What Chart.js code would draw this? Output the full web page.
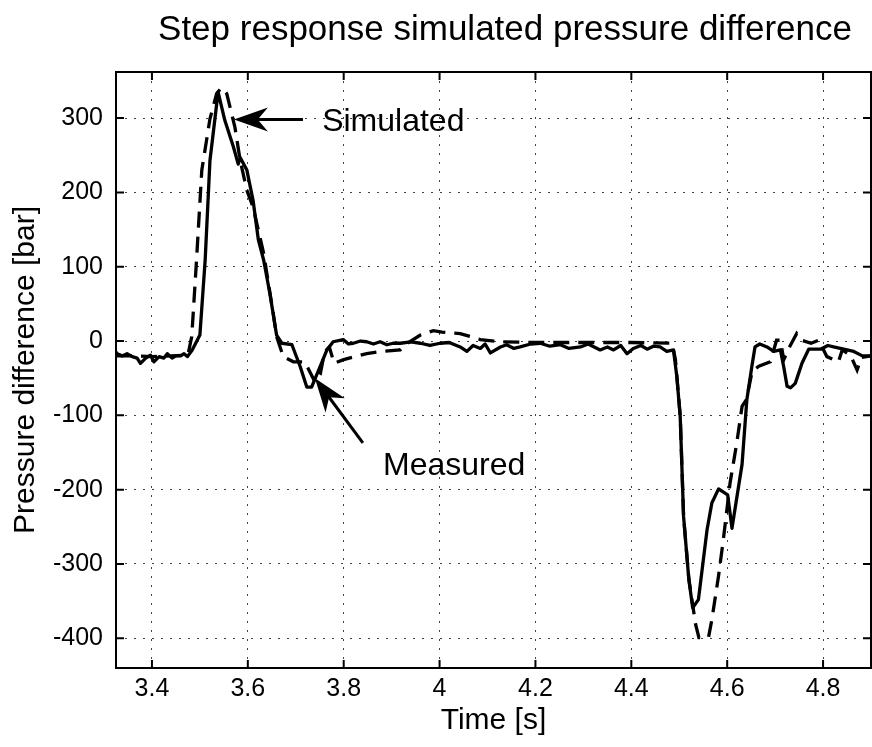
<!DOCTYPE html>
<html>
<head>
<meta charset="utf-8">
<script src="https://cdn.jsdelivr.net/npm/chart.js@4/dist/chart.umd.min.js"></script>
<style>
  html, body { margin: 0; padding: 0; background: #fff; }
  #wrap { width: 872px; height: 747px; }
</style>
</head>
<body>
<div id="wrap"><canvas id="chart"></canvas></div>
<script>
// measured signal (solid line)
const measuredTime = [3.325, 3.327, 3.338, 3.348, 3.359, 3.369, 3.376, 3.387, 3.397, 3.404, 3.415, 3.425, 3.432, 3.442, 3.45, 3.46, 3.467, 3.474, 3.484,
  3.5, 3.511, 3.521, 3.538, 3.552, 3.57, 3.58, 3.584, 3.598, 3.611, 3.622, 3.633, 3.646, 3.66, 3.671, 3.692,
  3.709, 3.723, 3.733, 3.751, 3.765, 3.778, 3.799, 3.81, 3.82, 3.835, 3.848, 3.862, 3.876, 3.89, 3.903, 3.918, 3.94, 3.96, 3.98, 4.001,
  4.02, 4.043, 4.057, 4.07, 4.085, 4.095, 4.106, 4.127, 4.14, 4.155, 4.168, 4.19, 4.21, 4.23, 4.252, 4.27, 4.294, 4.31, 4.335, 4.35, 4.363,
  4.378, 4.391, 4.404, 4.42, 4.433, 4.446, 4.46, 4.474, 4.488, 4.495, 4.502, 4.509, 4.52, 4.528, 4.54, 4.558, 4.568, 4.582, 4.601, 4.61,
  4.631, 4.641, 4.652, 4.658, 4.668, 4.683, 4.697, 4.711, 4.718, 4.725, 4.732, 4.742, 4.756, 4.77, 4.795, 4.81, 4.822, 4.843, 4.864, 4.882, 4.9];
const measuredDp = [-16, -17, -20, -17, -21, -23, -30, -23, -19, -28, -21, -23, -17, -23, -20, -20, -17, -21, -12,
  8, 109, 243, 335, 297, 261, 238, 247, 230, 189, 136, 109, 64, 8, -3, -5,
  -34, -62, -62, -34, -12, -1, 2, -4, -3, 0, -1, -4, -1, -5, -3, -3, -1, -3, -6, -3,
  -2, -8, -14, -6, -10, -4, -16, -8, -5, -10, -8, -4, -3, -7, -5, -10, -8, -4, -12, -8, -12,
  -6, -17, -10, -6, -11, -7, -8, -14, -12, -48, -102, -236, -321, -359, -348, -254, -218, -199, -207, -252,
  -166, -79, -32, -8, -4, -8, -14, -12, -35, -61, -63, -57, -30, -11, -11, -6, -8, -11, -14, -20, -20];

// simulated signal (dashed line)
const simulatedTime = [3.325, 3.36, 3.4, 3.44, 3.475, 3.483, 3.493, 3.504, 3.521, 3.535, 3.545, 3.556, 3.573, 3.584, 3.598, 3.611, 3.633, 3.653, 3.66,
  3.674, 3.695, 3.719, 3.74, 3.751, 3.76, 3.77, 3.78, 3.8, 3.848, 3.88, 3.918, 3.928, 3.96, 3.987, 4.005, 4.043, 4.085, 4.127,
  4.2, 4.3, 4.4, 4.485, 4.492, 4.502, 4.509, 4.52, 4.534, 4.541, 4.561, 4.568, 4.582, 4.592, 4.606, 4.62, 4.631, 4.64, 4.652, 4.666,
  4.69, 4.703, 4.711, 4.718, 4.73, 4.745, 4.756, 4.775, 4.791, 4.808, 4.832, 4.84, 4.857, 4.871, 4.88, 4.9];
const simulatedDp = [-20, -20, -21, -20, -19, 6, 109, 230, 299, 333, 341, 333, 288, 243, 203, 180, 118, 37, 6,
  -21, -28, -28, -55, -45, -15, -8, -30, -25, -17, -14, -12, -5, 8, 14, 12, 10, 2, -1,
  -2, -2, -2, -3, -25, -100, -236, -320, -381, -399, -399, -375, -316, -267, -191, -137, -88, -79, -41, -34,
  -28, 1, 1, -25, -8, 10, 1, -3, 1, -21, -28, -12, -19, -39, -22, -20];

const xTicks = [3.4, 3.6, 3.8, 4, 4.2, 4.4, 4.6, 4.8];
const yTicks = [-400, -300, -200, -100, 0, 100, 200, 300];

const FONT = "'Liberation Sans', Arial, Helvetica, sans-serif";

// text notes with arrows, in data units
const notes = [
  { text: 'Simulated', tx: 3.755, ty: 282, from: [3.715, 298], to: [3.571, 298] },
  { text: 'Measured', tx: 3.882, ty: -180, from: [3.840, -137], to: [3.740, -50] }
];

function toXY(list, ys) {
  return list.map((t, i) => ({ x: t, y: ys[i] }));
}

function drawArrow(ctx, x1, y1, x2, y2) {
  const ang = Math.atan2(y2 - y1, x2 - x1);
  const len = 34, half = 12;
  ctx.beginPath();
  ctx.moveTo(x1, y1);
  ctx.lineTo(x2 - Math.cos(ang) * 20, y2 - Math.sin(ang) * 20);
  ctx.stroke();
  const bx = x2 - Math.cos(ang) * len, by = y2 - Math.sin(ang) * len;
  const nx = -Math.sin(ang), ny = Math.cos(ang);
  ctx.beginPath();
  ctx.moveTo(x2, y2);
  ctx.lineTo(bx + nx * half, by + ny * half);
  ctx.lineTo(x2 - Math.cos(ang) * len * 0.7, y2 - Math.sin(ang) * len * 0.7);
  ctx.lineTo(bx - nx * half, by - ny * half);
  ctx.closePath();
  ctx.fill();
}

// box, inward ticks, title and notes
const framePlugin = {
  id: 'frame',
  afterDraw(chart) {
    const { ctx, chartArea: a, scales } = chart;
    const xs = scales.x, ys = scales.y;
    ctx.save();
    ctx.strokeStyle = '#000';
    ctx.fillStyle = '#000';
    ctx.lineWidth = 2;
    ctx.strokeRect(a.left, a.top, a.right - a.left, a.bottom - a.top);

    const tl = 8;
    ctx.beginPath();
    xTicks.forEach(v => {
      const px = xs.getPixelForValue(v);
      ctx.moveTo(px, a.bottom); ctx.lineTo(px, a.bottom - tl);
      ctx.moveTo(px, a.top); ctx.lineTo(px, a.top + tl);
    });
    yTicks.forEach(v => {
      const py = ys.getPixelForValue(v);
      ctx.moveTo(a.left, py); ctx.lineTo(a.left + tl, py);
      ctx.moveTo(a.right, py); ctx.lineTo(a.right - tl, py);
    });
    ctx.stroke();

    ctx.font = '35px ' + FONT;
    ctx.textAlign = 'center';
    ctx.textBaseline = 'alphabetic';
    ctx.fillText('Step response simulated pressure difference', 505, 40);

    ctx.font = '32px ' + FONT;
    ctx.textAlign = 'left';
    ctx.lineWidth = 3;
    notes.forEach(n => {
      ctx.fillText(n.text, xs.getPixelForValue(n.tx), ys.getPixelForValue(n.ty));
      drawArrow(ctx,
        xs.getPixelForValue(n.from[0]), ys.getPixelForValue(n.from[1]),
        xs.getPixelForValue(n.to[0]), ys.getPixelForValue(n.to[1]));
    });
    ctx.restore();
  }
};

const ctx = document.getElementById('chart').getContext('2d');
new Chart(ctx, {
  type: 'line',
  data: {
    datasets: [
      {
        label: 'Measured',
        data: toXY(measuredTime, measuredDp),
        borderColor: '#000',
        borderWidth: 3.3,
        borderJoinStyle: 'round',
        pointRadius: 0,
        tension: 0
      },
      {
        label: 'Simulated',
        data: toXY(simulatedTime, simulatedDp),
        borderColor: '#000',
        borderWidth: 3.3,
        borderDash: [16, 9],
        pointRadius: 0,
        tension: 0
      }
    ]
  },
  options: {
    responsive: true,
    maintainAspectRatio: false,
    animation: false,
    layout: { padding: { top: 72, right: 1, left: 0, bottom: 0 } },
    plugins: {
      legend: { display: false },
      tooltip: { enabled: false }
    },
    scales: {
      x: {
        type: 'linear',
        min: 3.325,
        max: 4.9,
        afterBuildTicks: s => { s.ticks = xTicks.map(v => ({ value: v })); },
        afterFit: s => { s.height = 79; },
        ticks: {
          color: '#000',
          font: { family: FONT, size: 25 },
          padding: 6,
          maxRotation: 0,
          callback: v => String(v)
        },
        grid: { color: '#444', lineWidth: 1, drawTicks: false },
        border: { display: false, dash: [2, 7] },
        title: {
          display: true,
          text: 'Time [s]',
          color: '#000',
          font: { family: FONT, size: 30 },
          padding: { top: 7, bottom: 8 }
        }
      },
      y: {
        type: 'linear',
        min: -440,
        max: 362,
        afterBuildTicks: s => { s.ticks = yTicks.map(v => ({ value: v })); },
        afterFit: s => { s.width = 116; },
        ticks: {
          color: '#000',
          font: { family: FONT, size: 25 },
          padding: 13,
          callback: v => String(v)
        },
        grid: { color: '#444', lineWidth: 1, drawTicks: false },
        border: { display: false, dash: [2, 7] },
        title: {
          display: true,
          text: 'Pressure difference [bar]',
          color: '#000',
          font: { family: FONT, size: 30 },
          padding: { top: 8, bottom: 8 }
        }
      }
    }
  },
  plugins: [framePlugin]
});
</script>
</body>
</html>
